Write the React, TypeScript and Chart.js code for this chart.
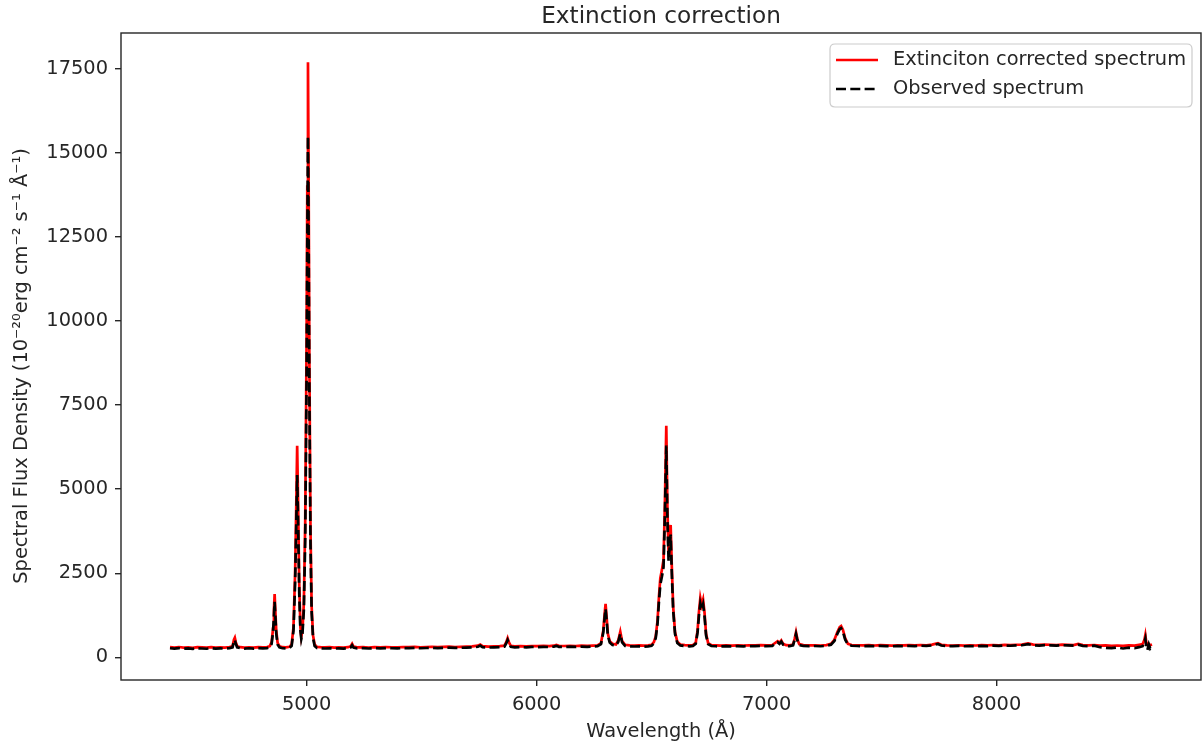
import React, { useEffect, useRef } from "react";
import { Chart, registerables } from "chart.js";

Chart.register(...registerables);

const TITLE = "Extinction correction";
const X_LABEL = "Wavelength (Å)";
const Y_LABEL = "Spectral Flux Density (10⁻²⁰erg cm⁻² s⁻¹ Å⁻¹)";
const SERIES_NAMES = ["Extinciton corrected spectrum", "Observed spectrum"];
const X_TICKS = [5000, 6000, 7000, 8000];
const Y_TICKS = [0, 2500, 5000, 7500, 10000, 12500, 15000, 17500];
const X_RANGE = [4193, 8889];
const Y_RANGE = [-676, 18571];

const wavelength = [
  4406, 4425, 4445, 4465, 4485, 4505, 4525, 4545, 4565, 4585,
  4605, 4625, 4645, 4665, 4678, 4684, 4688, 4692, 4698, 4712,
  4730, 4750, 4770, 4790, 4810, 4828, 4840, 4848, 4854, 4858,
  4861, 4864, 4868, 4874, 4882, 4895, 4910, 4925, 4935, 4943,
  4950, 4955, 4959, 4963, 4968, 4973, 4977, 4982, 4988, 4994,
  5000, 5003, 5006, 5009, 5012, 5017, 5022, 5028, 5035, 5045,
  5060, 5080, 5100, 5120, 5140, 5160, 5180, 5192, 5198, 5204,
  5220, 5245, 5270, 5295, 5320, 5345, 5370, 5395, 5420, 5445,
  5470, 5495, 5520, 5545, 5570, 5595, 5620, 5645, 5670, 5695,
  5720, 5745, 5755, 5765, 5790, 5815, 5840, 5860, 5868, 5874,
  5880, 5888, 5905, 5930, 5955, 5980, 6005, 6030, 6055, 6075,
  6086, 6097, 6120, 6145, 6170, 6195, 6220, 6245, 6265, 6280,
  6290, 6296, 6300, 6304, 6310, 6318, 6330, 6345, 6355, 6364,
  6372, 6385, 6405, 6425, 6445, 6465, 6485, 6500, 6510, 6518,
  6526, 6532, 6538, 6545, 6552, 6558, 6564, 6569, 6574, 6579,
  6583, 6588, 6594, 6602, 6612, 6625, 6645, 6665, 6680, 6692,
  6700, 6706, 6712, 6718, 6724, 6730, 6737, 6746, 6760, 6780,
  6800, 6825, 6850, 6875, 6900, 6925, 6950, 6975, 7000, 7025,
  7040, 7048, 7056, 7064, 7072, 7085, 7100, 7115, 7122, 7128,
  7134, 7142, 7160, 7185, 7210, 7235, 7260, 7280, 7295, 7308,
  7318, 7324, 7332, 7342, 7354, 7370, 7395, 7420, 7445, 7470,
  7495, 7520, 7545, 7570, 7595, 7620, 7645, 7670, 7695, 7720,
  7745, 7760, 7785, 7810, 7835, 7860, 7885, 7910, 7935, 7960,
  7985, 8010, 8035, 8060, 8085, 8110, 8137, 8160, 8185, 8210,
  8235, 8260, 8285, 8310, 8335, 8355, 8375, 8400, 8425, 8450,
  8475, 8500, 8525, 8550, 8575, 8600, 8620, 8635, 8643, 8647,
  8651, 8656, 8662, 8668, 8676,
];

const corrected = [
  300, 285, 305, 290, 298, 280, 300, 292, 285, 302,
  290, 296, 288, 305, 330, 520, 580, 450, 330, 300,
  290, 298, 285, 300, 295, 305, 330, 450, 850, 1400,
  1884, 1400, 800, 430, 330, 300, 295, 310, 380, 900,
  2500, 4500, 6290, 4600, 2200, 900, 620, 800, 1600, 4000,
  9500, 14000, 17700, 14000, 9000, 3800, 1500, 650, 380, 310,
  300, 292, 300, 288, 296, 285, 300, 330, 400, 320,
  295, 300, 290, 302, 295, 305, 298, 292, 305, 300,
  310, 298, 305, 312, 300, 308, 315, 305, 312, 318,
  322, 345, 380, 330, 318, 325, 330, 345, 450, 565,
  440, 340, 325, 330, 322, 335, 330, 338, 332, 345,
  370, 340, 335, 342, 336, 345, 338, 348, 355, 420,
  800, 1300, 1586, 1250, 700, 480, 400, 380, 500, 762,
  480, 370, 355, 348, 352, 345, 355, 370, 450, 620,
  1100, 1800, 2350, 2600, 2900, 4600, 6884, 4400, 3100, 3600,
  3937, 2700, 1500, 750, 460, 380, 360, 352, 365, 430,
  800, 1350, 1760, 1550, 1710, 1350, 700, 420, 360, 352,
  345, 355, 348, 356, 350, 358, 352, 362, 355, 365,
  440, 480, 430, 500, 400, 360, 355, 380, 550, 744,
  540, 390, 360, 352, 358, 350, 362, 400, 520, 750,
  900, 930, 820, 560, 400, 365, 358, 352, 360, 350,
  362, 355, 348, 358, 352, 360, 354, 365, 358, 375,
  420, 370, 355, 350, 358, 348, 356, 350, 360, 352,
  365, 358, 368, 362, 372, 378, 410, 375, 368, 380,
  372, 365, 378, 370, 362, 395, 360, 352, 365, 345,
  355, 340, 350, 338, 355, 345, 372, 390, 520, 663,
  450, 380, 400, 360, 380,
];

const observed = [
  268, 255, 272, 258, 266, 250, 268, 261, 254, 270,
  259, 265, 257, 273, 296, 466, 520, 404, 296, 270,
  260, 268, 256, 270, 265, 274, 296, 400, 745, 1230,
  1650, 1230, 705, 380, 295, 268, 264, 278, 338, 790,
  2200, 3900, 5425, 4000, 1920, 790, 545, 700, 1400, 3500,
  8300, 12250, 15500, 12250, 7870, 3330, 1320, 570, 335, 275,
  268, 261, 268, 258, 266, 255, 269, 295, 358, 287,
  265, 270, 261, 272, 266, 275, 268, 263, 275, 271,
  280, 269, 276, 282, 271, 279, 286, 277, 283, 289,
  293, 314, 346, 300, 290, 296, 301, 315, 411, 515,
  402, 311, 297, 302, 295, 307, 302, 310, 305, 317,
  340, 312, 308, 315, 309, 318, 311, 320, 327, 387,
  737, 1190, 1440, 1140, 642, 440, 367, 349, 459, 695,
  440, 340, 327, 320, 324, 318, 327, 340, 414, 570,
  1010, 1650, 2160, 2400, 2680, 4250, 6300, 4050, 2860, 3320,
  3650, 2500, 1390, 695, 426, 352, 334, 327, 339, 400,
  740, 1240, 1600, 1420, 1570, 1240, 648, 390, 335, 328,
  321, 331, 324, 332, 327, 334, 329, 338, 332, 341,
  412, 449, 402, 468, 374, 337, 332, 356, 515, 690,
  505, 365, 337, 330, 336, 328, 340, 375, 487, 700,
  840, 865, 765, 524, 375, 342, 336, 330, 338, 329,
  340, 334, 327, 337, 331, 339, 333, 344, 337, 353,
  396, 349, 335, 330, 338, 328, 336, 331, 340, 333,
  345, 339, 348, 343, 352, 358, 388, 356, 349, 360,
  353, 346, 359, 352, 344, 375, 341, 333, 345, 300,
  280, 270, 290, 262, 285, 272, 300, 330, 460, 560,
  300, 217, 380, 260, 330,
];

const FONT = '"DejaVu Sans", "Liberation Sans", sans-serif';
const FONT_SIZE = 19.4;
const TITLE_SIZE = 23.2;
const TEXT_COLOR = "#262626";
const AXIS_COLOR = "#262626";
const RED = "#ff0000";
const BLACK = "#000000";
const LINE_W = 2.7;
const DASH = [10, 4.3];

const decorPlugin = {
  id: "decor",
  afterDraw(chart: any) {
    const { ctx, chartArea: a } = chart;
    ctx.save();
    // frame
    ctx.strokeStyle = AXIS_COLOR;
    ctx.lineWidth = 1.4;
    ctx.strokeRect(a.left, a.top, a.right - a.left, a.bottom - a.top);
    // title
    const cx = (a.left + a.right) / 2;
    ctx.fillStyle = TEXT_COLOR;
    ctx.textAlign = "center";
    ctx.textBaseline = "alphabetic";
    ctx.font = `${TITLE_SIZE}px ${FONT}`;
    ctx.fillText(TITLE, cx, 23);
    // x label
    ctx.font = `${FONT_SIZE}px ${FONT}`;
    ctx.fillText(X_LABEL, cx, 737);
    // y label
    ctx.save();
    ctx.translate(22, 366);
    ctx.rotate(-Math.PI / 2);
    ctx.textBaseline = "middle";
    ctx.fillText(Y_LABEL, 0, 0);
    ctx.restore();

    // legend
    const bx = 830, by = 44, bw = 362, bh = 63, r = 5;
    ctx.beginPath();
    ctx.moveTo(bx + r, by);
    ctx.lineTo(bx + bw - r, by);
    ctx.quadraticCurveTo(bx + bw, by, bx + bw, by + r);
    ctx.lineTo(bx + bw, by + bh - r);
    ctx.quadraticCurveTo(bx + bw, by + bh, bx + bw - r, by + bh);
    ctx.lineTo(bx + r, by + bh);
    ctx.quadraticCurveTo(bx, by + bh, bx, by + bh - r);
    ctx.lineTo(bx, by + r);
    ctx.quadraticCurveTo(bx, by, bx + r, by);
    ctx.closePath();
    ctx.fillStyle = "rgba(255,255,255,0.8)";
    ctx.fill();
    ctx.strokeStyle = "#cccccc";
    ctx.lineWidth = 1.2;
    ctx.stroke();

    const rows = [
      { y: 60, color: RED, dash: [] as number[] },
      { y: 89, color: BLACK, dash: DASH },
    ];
    rows.forEach((row, i) => {
      ctx.beginPath();
      ctx.setLineDash(row.dash);
      ctx.strokeStyle = row.color;
      ctx.lineWidth = LINE_W;
      ctx.moveTo(836, row.y);
      ctx.lineTo(878, row.y);
      ctx.stroke();
      ctx.setLineDash([]);
      ctx.fillStyle = TEXT_COLOR;
      ctx.font = `${FONT_SIZE}px ${FONT}`;
      ctx.textAlign = "left";
      ctx.textBaseline = "middle";
      ctx.fillText(SERIES_NAMES[i], 893, row.y);
    });
    ctx.restore();
  },
};

export default function App() {
  const canvasRef = useRef<HTMLCanvasElement | null>(null);

  useEffect(() => {
    document.body.style.margin = "0";
    const canvas = canvasRef.current;
    if (!canvas) return;
    const chart = new Chart(canvas, {
      type: "line",
      data: {
        datasets: [
          {
            label: SERIES_NAMES[0],
            data: wavelength.map((w, i) => ({ x: w, y: corrected[i] })),
            borderColor: RED,
            backgroundColor: RED,
            borderWidth: LINE_W,
            pointRadius: 0,
            tension: 0,
            fill: false,
            order: 1,
          },
          {
            label: SERIES_NAMES[1],
            data: wavelength.map((w, i) => ({ x: w, y: observed[i] })),
            borderColor: BLACK,
            backgroundColor: BLACK,
            borderWidth: LINE_W,
            borderDash: DASH,
            pointRadius: 0,
            tension: 0,
            fill: false,
            order: 0,
          },
        ],
      },
      options: {
        responsive: false,
        animation: false,
        devicePixelRatio: 1,
        layout: { padding: { top: 33, right: 1, left: 0, bottom: 0 } },
        plugins: {
          legend: { display: false },
          title: { display: false },
          tooltip: { enabled: false },
        },
        scales: {
          x: {
            type: "linear",
            min: X_RANGE[0],
            max: X_RANGE[1],
            afterFit: (s: any) => {
              s.height = 64;
            },
            afterBuildTicks: (s: any) => {
              s.ticks = X_TICKS.map((v) => ({ value: v }));
            },
            ticks: {
              callback: (v: any) => String(v),
              font: { size: FONT_SIZE, family: FONT },
              color: TEXT_COLOR,
              padding: 7,
              maxRotation: 0,
              autoSkip: false,
            },
            grid: {
              drawOnChartArea: false,
              drawTicks: true,
              tickLength: 6,
              color: AXIS_COLOR,
              lineWidth: 1.4,
            },
            border: { display: false },
          },
          y: {
            type: "linear",
            min: Y_RANGE[0],
            max: Y_RANGE[1],
            afterFit: (s: any) => {
              s.width = 121;
            },
            afterBuildTicks: (s: any) => {
              s.ticks = Y_TICKS.map((v) => ({ value: v }));
            },
            ticks: {
              callback: (v: any) => String(v),
              font: { size: FONT_SIZE, family: FONT },
              color: TEXT_COLOR,
              padding: 7,
              autoSkip: false,
            },
            grid: {
              drawOnChartArea: false,
              drawTicks: true,
              tickLength: 6,
              color: AXIS_COLOR,
              lineWidth: 1.4,
            },
            border: { display: false },
          },
        },
      },
      plugins: [decorPlugin],
    });
    return () => chart.destroy();
  }, []);

  return (
    <div style={{ width: 1202, height: 744, background: "#fff" }}>
      <canvas ref={canvasRef} width={1202} height={744} style={{ display: "block", width: 1202, height: 744 }} />
    </div>
  );
}
